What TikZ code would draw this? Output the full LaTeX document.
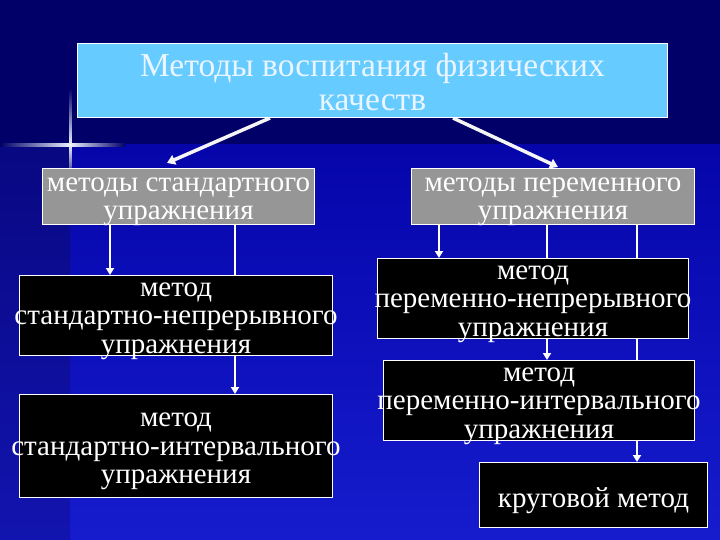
\documentclass[tikz,border=0pt]{standalone}
\usepackage{fontspec}
\setmainfont{Liberation Serif}
\usetikzlibrary{arrows.meta}
\pgfdeclarelayer{back}
\pgfdeclarelayer{links}
\pgfsetlayers{back,links,main}
\definecolor{navy}{RGB}{0,0,104}
\definecolor{bluemid}{RGB}{5,5,170}
\definecolor{bluelow}{RGB}{22,28,205}
\definecolor{stripa}{RGB}{8,8,130}
\definecolor{stripb}{RGB}{18,20,175}
\definecolor{skyfill}{RGB}{102,204,255}
\definecolor{grayfill}{RGB}{150,150,150}
\definecolor{toptext}{RGB}{235,245,255}
\definecolor{flare}{RGB}{235,240,255}
\begin{document}
\begin{tikzpicture}[x=1pt,y=-1pt,
  box/.style={draw=white, line width=1pt, inner sep=0pt, anchor=north west},
  topbox/.style={box, fill=skyfill},
  graybox/.style={box, fill=grayfill},
  blackbox/.style={box, fill=black},
  txt/.style={text=white, align=center, inner sep=0pt, yshift=-5.5pt, font=\fontsize{29}{28.5}\selectfont},
  toptxt/.style={text=toptext, align=center, inner sep=0pt, yshift=-1.5pt, font=\fontsize{33.5}{34}\selectfont},
  link/.style={draw=white, line width=2.6pt, -{Triangle[length=7pt,width=8pt]}},
  diag/.style={draw=white!92!gray, line width=3.5pt, -{Triangle[length=8pt,width=10pt]}},
]
\useasboundingbox (0,0) rectangle (720,540);
\begin{pgfonlayer}{back}
  \fill[navy] (0,0) rectangle (720,540);
  \shade[top color=bluemid, bottom color=bluelow] (70,145) rectangle (720,540);
  \shade[top color=stripa, bottom color=stripb] (0,145) rectangle (70,540);
  \shade[left color=navy, right color=flare] (0,144) rectangle (70,146.5);
  \shade[left color=flare, right color=navy] (70,144) rectangle (125,146.5);
  \shade[top color=navy, bottom color=flare] (69,88) rectangle (71.5,145);
  \shade[top color=flare, bottom color=navy!60!flare] (69,145) rectangle (71.5,168);
\end{pgfonlayer}

% boxes
\node[topbox, minimum width=590, minimum height=74] (top) at (77,43) {};
\node[graybox, minimum width=272, minimum height=56] (gl) at (42,168) {};
\node[graybox, minimum width=283, minimum height=56] (gr) at (411,168) {};
\node[blackbox, minimum width=313, minimum height=80] (l1) at (19,275) {};
\node[blackbox, minimum width=313, minimum height=103] (l2) at (19,394) {};
\node[blackbox, minimum width=311, minimum height=80] (r1) at (377,258) {};
\node[blackbox, minimum width=311, minimum height=80] (r2) at (383,360) {};
\node[blackbox, minimum width=228, minimum height=65] (r3) at (479,462) {};

% texts
\node[toptxt] (toplbl) at (top.center) {Методы воспитания физических\\качеств};
\node[txt] (gllbl) at (gl.center) {методы стандартного\\упражнения};
\node[txt] (grlbl) at (gr.center) {методы переменного\\упражнения};
\node[txt] (l1lbl) at (l1.center) {метод\\стандартно-непрерывного\\упражнения};
\node[txt] (l2lbl) at (l2.center) {метод\\стандартно-интервального\\упражнения};
\node[txt] (r1lbl) at (r1.center) {метод\\переменно-непрерывного\\упражнения};
\node[txt] (r2lbl) at (r2.center) {метод\\переменно-интервального\\упражнения};
\node[txt] (r3lbl) at (r3.center) {круговой метод};

% connectors
\begin{pgfonlayer}{links}
  \draw[diag] ([xshift=193]top.south west) -- ([xshift=125,yshift=5]gl.north west);
  \draw[diag] ([xshift=376]top.south west) -- ([xshift=147,yshift=1]gr.north west);
  \draw[link] ([xshift=68]gl.south west) -- ([xshift=91]l1.north west);
  \draw[link] ([xshift=193]gl.south west) -- ([xshift=216]l2.north west);
  \draw[link] ([xshift=28]gr.south west) -- ([xshift=62]r1.north west);
  \draw[link] ([xshift=136]gr.south west) -- ([xshift=164]r2.north west);
  \draw[link] ([xshift=226]gr.south west) -- ([xshift=158]r3.north west);
\end{pgfonlayer}
\end{tikzpicture}
\end{document}
